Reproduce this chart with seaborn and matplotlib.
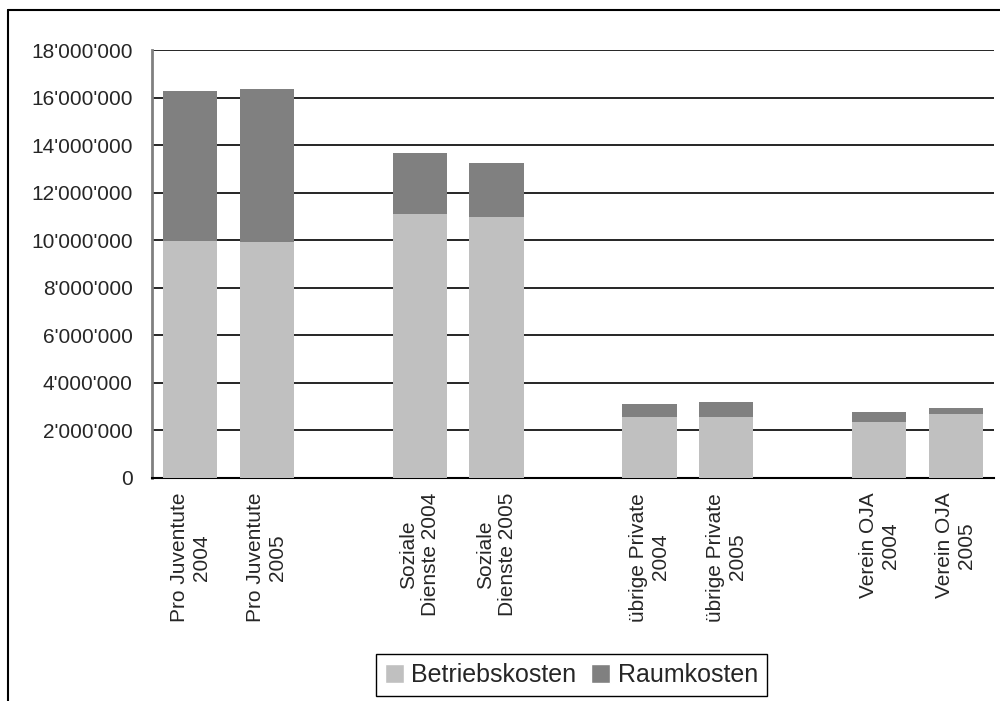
import pandas as pd
import matplotlib.pyplot as plt
import seaborn as sns
from matplotlib.patches import Patch
from matplotlib.lines import Line2D
from matplotlib.ticker import FuncFormatter, FixedLocator

# Data
slots = ["PJ04", "PJ05", "gap1", "SD04", "SD05", "gap2", "UP04", "UP05", "gap3", "OJA04", "OJA05"]
tick_labels = ["Pro Juventute\n2004", "Pro Juventute\n2005", "",
               "Soziale\nDienste 2004", "Soziale\nDienste 2005", "",
               "übrige Private\n2004", "übrige Private\n2005", "",
               "Verein OJA\n2004", "Verein OJA\n2005"]
bar_keys = ["PJ04", "PJ05", "SD04", "SD05", "UP04", "UP05", "OJA04", "OJA05"]
betriebskosten = [9940000, 9900000, 11080000, 10950000, 2550000, 2550000, 2340000, 2680000]
raumkosten = [6330000, 6450000, 2570000, 2280000, 550000, 640000, 420000, 250000]

df = pd.DataFrame({"slot": bar_keys, "Betriebskosten": betriebskosten, "Raumkosten": raumkosten})
df["total"] = df["Betriebskosten"] + df["Raumkosten"]

sns.set_style("white")
plt.rcParams['font.family'] = ['Liberation Sans', 'DejaVu Sans']

fig = plt.figure(figsize=(10, 7.01), dpi=100)
ax = fig.add_axes([0.152, 0.3188, 0.842, 0.6098])

# stacked bars: draw total in dark, then Betriebskosten on top in light
sns.barplot(data=df, x="slot", y="total", order=slots, color="#808080",
            width=0.71, saturation=1, ax=ax, errorbar=None, zorder=3, linewidth=0)
sns.barplot(data=df, x="slot", y="Betriebskosten", order=slots, color="#C0C0C0",
            width=0.71, saturation=1, ax=ax, errorbar=None, zorder=3, linewidth=0)

ax.set_xlim(-0.5, 10.5)
ax.set_ylim(0, 18000000)
ax.set_yticks(range(0, 18000001, 2000000))
ax.yaxis.set_major_formatter(FuncFormatter(lambda v, p: f"{int(v):,}".replace(",", "'")))
ax.yaxis.grid(True, color="black", linewidth=1.2, zorder=0)
ax.set_axisbelow(True)

# labels at category centres, tick marks at boundaries
ax.xaxis.set_major_locator(FixedLocator([i - 0.5 for i in range(12)]))
ax.xaxis.set_major_formatter(FuncFormatter(lambda v, p: ""))
ax.xaxis.set_minor_locator(FixedLocator(list(range(11))))
ax.set_xticklabels(tick_labels, minor=True, rotation=90, ha="center", va="top", fontsize=15)
ax.tick_params(axis="x", which="minor", length=0, pad=11)
ax.tick_params(axis="x", which="major", length=5, width=1, color="black", direction="out")
ax.tick_params(axis="y", length=5, width=1, color="black", direction="out", pad=9, labelsize=15)
ax.set_xlabel("")
ax.set_ylabel("")

for s in ["top", "right"]:
    ax.spines[s].set_visible(False)
ax.spines["left"].set_color("#808080")
ax.spines["left"].set_linewidth(2)
ax.spines["bottom"].set_color("black")
ax.spines["bottom"].set_linewidth(1.5)

handles = [Patch(facecolor="#C0C0C0", label="Betriebskosten"),
           Patch(facecolor="#808080", label="Raumkosten")]
leg = fig.legend(handles=handles, loc="center", bbox_to_anchor=(0.5715, 0.037), ncol=2,
                 fontsize=18, frameon=True, fancybox=False, edgecolor="black", framealpha=1,
                 handlelength=0.75, handleheight=0.75, handletextpad=0.3, columnspacing=0.6,
                 borderpad=0.35)
leg.get_frame().set_linewidth(1)

# outer chart frame (partially cropped in the original)
fig.add_artist(Line2D([0.008, 1.0], [0.9857, 0.9857], color="black", linewidth=1.5, transform=fig.transFigure))
fig.add_artist(Line2D([0.008, 0.008], [0.0, 0.9857], color="black", linewidth=1.5, transform=fig.transFigure))

fig.savefig("out.png", dpi=100)
